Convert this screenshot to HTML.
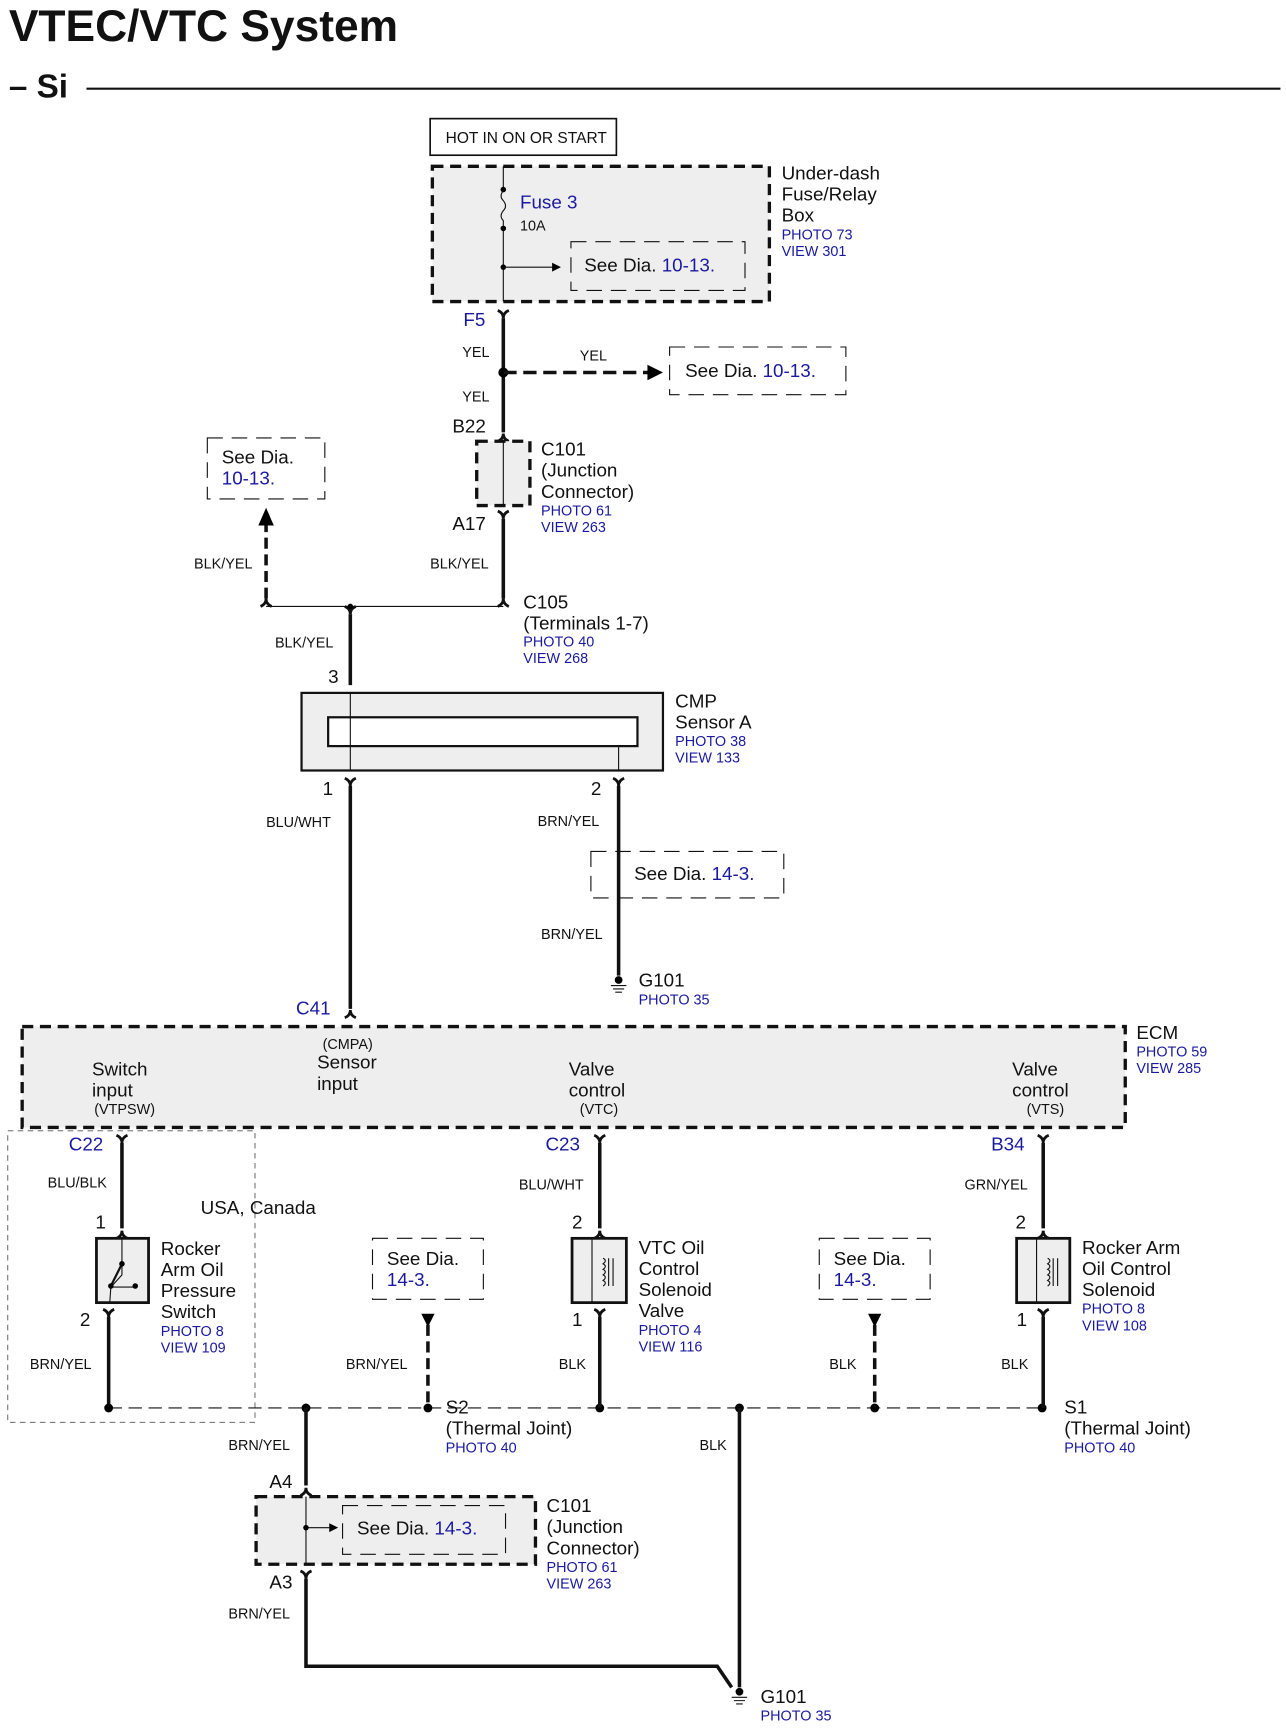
<!DOCTYPE html>
<html><head><meta charset="utf-8"><style>
html,body{margin:0;padding:0;background:#fff}
svg{display:block}
text{font-family:"Liberation Sans",sans-serif;fill:#111}
.b{fill:#1a1aa0}
.s{font-size:13px}
.m{font-size:17px}
.p{font-size:13px;fill:#1a1aa0}
.w{stroke:#111;stroke-width:3.2;fill:none}
.t{stroke:#111;stroke-width:1;fill:none}
.dk{stroke:#111;stroke-width:3;stroke-dasharray:10,6}
.dt{stroke:#111;stroke-width:1;stroke-dasharray:14,8}
</style></head><body>
<svg width="1286" height="1735" viewBox="0 0 1160 1565" xmlns="http://www.w3.org/2000/svg">
<defs>
<path id="fk" d="M-5,-7 Q0,-5 0,0 Q0,-5 5,-7" stroke="#111" stroke-width="2.5" fill="none"/>
<path id="cp" d="M-5,7 Q0,5 0,0 Q0,5 5,7" stroke="#111" stroke-width="2.5" fill="none"/>
</defs>
<text x="8" y="37" style="font-size:40px;font-weight:bold">VTEC/VTC System</text>
<text x="8" y="88" style="font-size:30px;font-weight:bold">– Si</text>
<line x1="78" y1="80" x2="1155" y2="80" stroke="#111" stroke-width="2"/>

<rect x="388" y="107" width="168" height="33" fill="#fff" stroke="#111" stroke-width="1.5"/>
<text x="402" y="129" class="s" style="font-size:14px">HOT IN ON OR START</text>

<rect x="390" y="150" width="304" height="122" fill="#eee" class="dk"/>
<path d="M454,150 V170 M454,207 V272" class="t"/>
<path d="M454,172 q-4,5 0,9 q4,5 0,9 q-4,5 0,9 V207" class="t"/>
<circle cx="454" cy="171" r="2.5"/><circle cx="454" cy="206" r="2.5"/><circle cx="454" cy="241" r="2.5"/>
<path d="M454,241 H500" class="t"/><path d="M498,237 L506,241 L498,245Z"/>
<rect x="515" y="218" width="157" height="44" fill="#eee" class="dt"/>
<text x="527" y="245" class="m">See Dia. <tspan class="b">10-13.</tspan></text>
<text x="469" y="188" class="m b">Fuse 3</text>
<text x="469" y="208" class="s">10A</text>
<text x="705" y="162" class="m">Under-dash</text>
<text x="705" y="181" class="m">Fuse/Relay</text>
<text x="705" y="200" class="m">Box</text>
<text x="705" y="216" class="p">PHOTO 73</text>
<text x="705" y="231" class="p">VIEW 301</text>

<text x="418" y="294" class="m b">F5</text>
<use href="#fk" x="454" y="287"/>
<path d="M454,287 V390" class="w"/>
<text x="417" y="322" class="s">YEL</text>
<text x="417" y="362" class="s">YEL</text>
<circle cx="454" cy="336" r="4.5"/>
<path d="M454,336 H585" class="w" style="stroke-dasharray:12,6"/>
<path d="M584,329 L598,336 L584,343Z"/>
<text x="523" y="325" class="s">YEL</text>
<rect x="604" y="313" width="159" height="43" fill="#fff" class="dt"/>
<text x="618" y="340" class="m">See Dia. <tspan class="b">10-13.</tspan></text>

<text x="408" y="390" class="m">B22</text>
<use href="#cp" x="454" y="391"/>
<rect x="430" y="398" width="48" height="58" fill="#eee" class="dk"/>
<path d="M454,398 V456" class="t"/>
<text x="488" y="411" class="m">C101</text>
<text x="488" y="430" class="m">(Junction</text>
<text x="488" y="449" class="m">Connector)</text>
<text x="488" y="465" class="p">PHOTO 61</text>
<text x="488" y="480" class="p">VIEW 263</text>
<text x="408" y="478" class="m">A17</text>
<use href="#fk" x="454" y="468"/>
<path d="M454,468 V540" class="w"/>
<text x="388" y="513" class="s">BLK/YEL</text>
<path d="M240,547 H454" class="t"/>
<use href="#cp" x="454" y="540"/><use href="#cp" x="240" y="540"/><use href="#fk" x="316" y="554"/>
<circle cx="316" cy="547" r="2.5"/>
<path d="M240,540 V470" class="w" style="stroke-dasharray:10,5"/>
<path d="M233,474 L240,458 L247,474Z"/>
<text x="175" y="513" class="s">BLK/YEL</text>
<rect x="187" y="395" width="106" height="55" fill="#fff" class="dt"/>
<text x="200" y="418" class="m">See Dia.</text>
<text x="200" y="437" class="m b">10-13.</text>
<text x="472" y="549" class="m">C105</text>
<text x="472" y="568" class="m">(Terminals 1-7)</text>
<text x="472" y="583" class="p">PHOTO 40</text>
<text x="472" y="598" class="p">VIEW 268</text>
<text x="248" y="584" class="s">BLK/YEL</text>
<path d="M316,554 V618" class="w"/>
<text x="296" y="616" class="m">3</text>

<rect x="272" y="625" width="326" height="70" fill="#eee" stroke="#111" stroke-width="2"/>
<rect x="296" y="647" width="279" height="26" fill="#fff" stroke="#111" stroke-width="2"/>
<path d="M316,625 V695 M558,673 V695" class="t"/>
<text x="609" y="638" class="m">CMP</text>
<text x="609" y="657" class="m">Sensor A</text>
<text x="609" y="673" class="p">PHOTO 38</text>
<text x="609" y="688" class="p">VIEW 133</text>
<text x="291" y="717" class="m">1</text><text x="533" y="717" class="m">2</text>
<use href="#fk" x="316" y="709"/><use href="#fk" x="558" y="709"/>
<path d="M316,709 V910" class="w"/>
<path d="M558,709 V880" class="w"/>
<text x="240" y="746" class="s">BLU/WHT</text>
<text x="485" y="745" class="s">BRN/YEL</text>
<text x="488" y="847" class="s">BRN/YEL</text>
<rect x="533" y="768" width="174" height="42" fill="none" class="dt"/>
<text x="572" y="794" class="m">See Dia. <tspan class="b">14-3.</tspan></text>
<circle cx="558" cy="884" r="3.5"/><path d="M551,889 H565 M553,892 H563 M555,895 H561" class="t"/>
<text x="576" y="890" class="m">G101</text>
<text x="576" y="906" class="p">PHOTO 35</text>
<text x="267" y="915" class="m b">C41</text>
<use href="#cp" x="316" y="911"/>

<rect x="20" y="926" width="995" height="91" fill="#eee" class="dk"/>
<text x="83" y="970" class="m">Switch</text><text x="83" y="989" class="m">input</text><text x="85" y="1005" class="s">(VTPSW)</text>
<text x="291" y="946" class="s">(CMPA)</text><text x="286" y="964" class="m">Sensor</text><text x="286" y="983" class="m">input</text>
<text x="513" y="970" class="m">Valve</text><text x="513" y="989" class="m">control</text><text x="523" y="1005" class="s">(VTC)</text>
<text x="913" y="970" class="m">Valve</text><text x="913" y="989" class="m">control</text><text x="926" y="1005" class="s">(VTS)</text>
<text x="1025" y="937" class="m">ECM</text>
<text x="1025" y="953" class="p">PHOTO 59</text>
<text x="1025" y="968" class="p">VIEW 285</text>

<rect x="7" y="1020" width="223" height="263" fill="none" stroke="#555" stroke-width="0.8" stroke-dasharray="5,4"/>
<text x="181" y="1095" class="m">USA, Canada</text>

<text x="62" y="1038" class="m b">C22</text>
<use href="#fk" x="110" y="1031"/>
<path d="M110,1031 V1108" class="w"/>
<use href="#cp" x="110" y="1110"/>
<text x="43" y="1071" class="s">BLU/BLK</text>
<text x="86" y="1108" class="m">1</text>
<rect x="87" y="1117" width="47" height="58" fill="#eee" stroke="#111" stroke-width="2.5"/>
<path d="M110,1117 V1150 L100,1161 M100,1161 L99,1175 M100,1161 H122" class="t"/>
<path d="M110,1140 L100,1160" stroke="#111" stroke-width="2"/>
<circle cx="110" cy="1140" r="2.5"/><circle cx="100" cy="1160" r="2.5"/><circle cx="122" cy="1160" r="2.5"/>
<text x="145" y="1132" class="m">Rocker</text><text x="145" y="1151" class="m">Arm Oil</text><text x="145" y="1170" class="m">Pressure</text><text x="145" y="1189" class="m">Switch</text>
<text x="145" y="1205" class="p">PHOTO 8</text><text x="145" y="1220" class="p">VIEW 109</text>
<text x="72" y="1196" class="m">2</text>
<use href="#fk" x="98" y="1188"/>
<path d="M98,1188 V1270" class="w"/>
<text x="27" y="1235" class="s">BRN/YEL</text>

<path d="M98,1270 H940" stroke="#111" stroke-width="1" stroke-dasharray="12,6"/>
<g><circle cx="98" cy="1270" r="4"/><circle cx="276" cy="1270" r="4"/><circle cx="386" cy="1270" r="4"/><circle cx="541" cy="1270" r="4"/><circle cx="667" cy="1270" r="4"/><circle cx="789" cy="1270" r="4"/><circle cx="940" cy="1270" r="4"/></g>

<rect x="336" y="1117" width="100" height="55" fill="#fff" class="dt"/>
<text x="349" y="1141" class="m">See Dia.</text><text x="349" y="1160" class="m b">14-3.</text>
<path d="M380,1185 L392,1185 L386,1197Z"/>
<path d="M386,1195 V1270" class="w" style="stroke-dasharray:10,5"/>
<text x="312" y="1235" class="s">BRN/YEL</text>
<text x="402" y="1275" class="m">S2</text><text x="402" y="1294" class="m">(Thermal Joint)</text><text x="402" y="1310" class="p">PHOTO 40</text>

<text x="492" y="1038" class="m b">C23</text>
<use href="#fk" x="541" y="1031"/>
<path d="M541,1031 V1108" class="w"/>
<use href="#cp" x="541" y="1110"/>
<text x="468" y="1073" class="s">BLU/WHT</text>
<text x="516" y="1108" class="m">2</text>
<rect x="516" y="1117" width="49" height="58" fill="#eee" stroke="#111" stroke-width="2.5"/>
<path d="M534,1117 V1175 M544,1135 q4,2 0,5 q4,2 0,5 q4,2 0,5 q4,2 0,5 q4,2 0,5 M549,1135 V1160 M553,1135 V1160" class="t"/>
<text x="576" y="1131" class="m">VTC Oil</text><text x="576" y="1150" class="m">Control</text><text x="576" y="1169" class="m">Solenoid</text><text x="576" y="1188" class="m">Valve</text>
<text x="576" y="1204" class="p">PHOTO 4</text><text x="576" y="1219" class="p">VIEW 116</text>
<text x="516" y="1196" class="m">1</text>
<use href="#fk" x="541" y="1188"/>
<path d="M541,1188 V1270" class="w"/>
<text x="504" y="1235" class="s">BLK</text>

<rect x="739" y="1117" width="100" height="55" fill="#fff" class="dt"/>
<text x="752" y="1141" class="m">See Dia.</text><text x="752" y="1160" class="m b">14-3.</text>
<path d="M783,1185 L795,1185 L789,1197Z"/>
<path d="M789,1195 V1270" class="w" style="stroke-dasharray:10,5"/>
<text x="748" y="1235" class="s">BLK</text>

<text x="894" y="1038" class="m b">B34</text>
<use href="#fk" x="941" y="1031"/>
<path d="M941,1031 V1108" class="w"/>
<use href="#cp" x="941" y="1110"/>
<text x="870" y="1073" class="s">GRN/YEL</text>
<text x="916" y="1108" class="m">2</text>
<rect x="917" y="1117" width="48" height="58" fill="#eee" stroke="#111" stroke-width="2.5"/>
<path d="M935,1117 V1175 M945,1135 q4,2 0,5 q4,2 0,5 q4,2 0,5 q4,2 0,5 q4,2 0,5 M950,1135 V1160 M954,1135 V1160" class="t"/>
<text x="976" y="1131" class="m">Rocker Arm</text><text x="976" y="1150" class="m">Oil Control</text><text x="976" y="1169" class="m">Solenoid</text>
<text x="976" y="1185" class="p">PHOTO 8</text><text x="976" y="1200" class="p">VIEW 108</text>
<text x="917" y="1196" class="m">1</text>
<use href="#fk" x="941" y="1188"/>
<path d="M941,1188 V1270" class="w"/>
<text x="903" y="1235" class="s">BLK</text>
<text x="960" y="1275" class="m">S1</text><text x="960" y="1294" class="m">(Thermal Joint)</text><text x="960" y="1310" class="p">PHOTO 40</text>

<path d="M667,1270 V1522" class="w"/>
<text x="631" y="1308" class="s">BLK</text>

<path d="M276,1270 V1340" class="w"/>
<text x="206" y="1308" class="s">BRN/YEL</text>
<text x="243" y="1342" class="m">A4</text>
<use href="#cp" x="276" y="1342"/>
<rect x="231" y="1350" width="252" height="61" fill="#eee" class="dk"/>
<path d="M276,1350 V1411 M276,1378 H298" class="t"/>
<circle cx="276" cy="1378" r="2.5"/><path d="M297,1374 L305,1378 L297,1382Z"/>
<rect x="309" y="1358" width="147" height="44" fill="#eee" class="dt"/>
<text x="322" y="1384" class="m">See Dia. <tspan class="b">14-3.</tspan></text>
<text x="493" y="1364" class="m">C101</text><text x="493" y="1383" class="m">(Junction</text><text x="493" y="1402" class="m">Connector)</text>
<text x="493" y="1418" class="p">PHOTO 61</text><text x="493" y="1433" class="p">VIEW 263</text>
<text x="243" y="1433" class="m">A3</text>
<use href="#fk" x="276" y="1424"/>
<path d="M276,1424 V1503 H647 L660,1522" class="w"/>
<text x="206" y="1460" class="s">BRN/YEL</text>
<circle cx="667" cy="1526" r="3.5"/><path d="M660,1531 H674 M662,1534 H672 M664,1537 H670" class="t"/>
<text x="686" y="1536" class="m">G101</text>
<text x="686" y="1552" class="p">PHOTO 35</text>
</svg>
</body></html>
